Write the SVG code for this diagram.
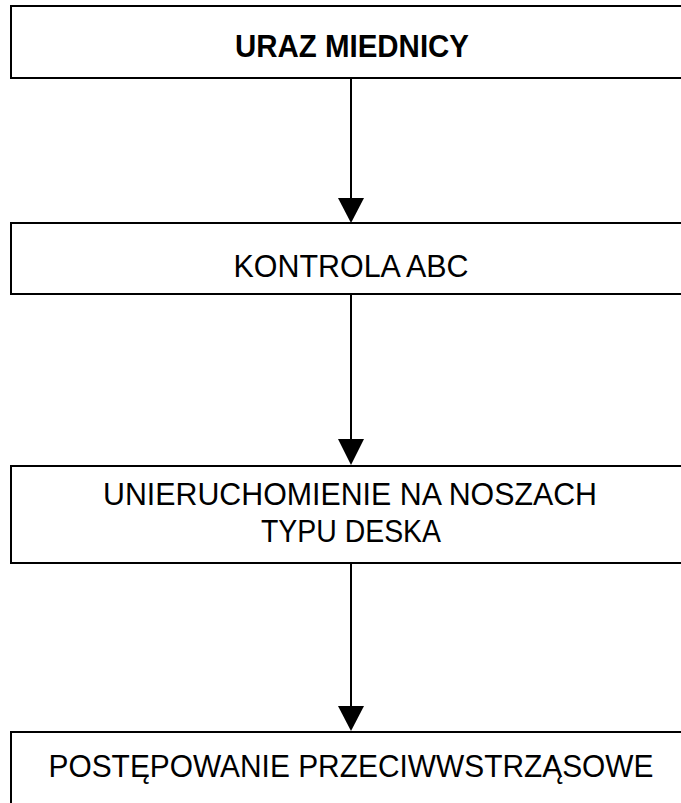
<svg xmlns="http://www.w3.org/2000/svg" width="681" height="803" viewBox="0 0 681 803">
<style>
.box{fill:#fff;stroke:#000;stroke-width:2}
.t{font-family:"Liberation Sans",Arial,sans-serif;font-size:31px;fill:#000;text-anchor:middle}
.b{font-weight:bold}
.c{stroke:#000;stroke-width:2;fill:none}
.ah{fill:#000;stroke:none}
</style>
<g id="n1"><rect class="box" x="11" y="6" width="690" height="72"/><text class="t b" x="352" y="57" textLength="234" lengthAdjust="spacingAndGlyphs">URAZ MIEDNICY</text></g>
<g id="n2"><rect class="box" x="11" y="223" width="690" height="71"/><text class="t" x="351" y="277" textLength="235" lengthAdjust="spacingAndGlyphs">KONTROLA ABC</text></g>
<g id="n3"><rect class="box" x="11" y="466" width="690" height="97"/><text class="t" x="350" y="505" textLength="494" lengthAdjust="spacingAndGlyphs">UNIERUCHOMIENIE NA NOSZACH</text><text class="t" x="351" y="542" textLength="180" lengthAdjust="spacingAndGlyphs">TYPU DESKA</text></g>
<g id="n4"><rect class="box" x="11" y="732" width="690" height="90"/><text class="t" x="351" y="777" textLength="605" lengthAdjust="spacingAndGlyphs">POSTĘPOWANIE PRZECIWWSTRZĄSOWE</text></g>
<g id="connectors">
<line class="c" x1="351" y1="79" x2="351" y2="200"/>
<path class="ah" d="M338,198 L364,198 L351,223 Z"/>
<line class="c" x1="351" y1="295" x2="351" y2="441"/>
<path class="ah" d="M338,439 L364,439 L351,465 Z"/>
<line class="c" x1="351" y1="564" x2="351" y2="708"/>
<path class="ah" d="M338,706 L364,706 L351,731 Z"/>
</g>
</svg>
